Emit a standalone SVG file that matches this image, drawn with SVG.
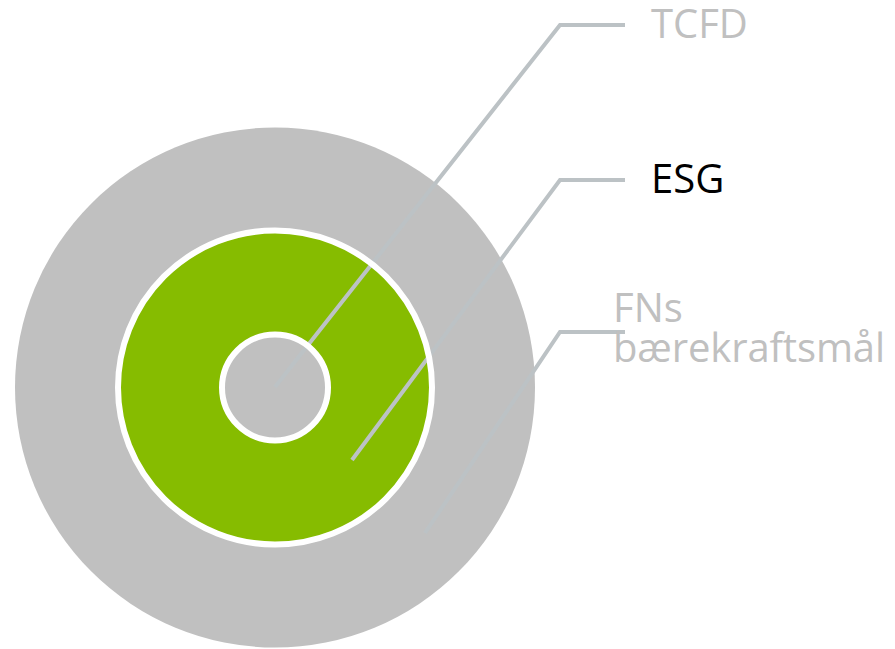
<svg xmlns="http://www.w3.org/2000/svg" width="895" height="649" viewBox="0 0 895 649">
  <style>
    .grayfill { fill: #c0c0c0; }
    .greenfill { fill: #86bc00; }
    .ring { fill: none; stroke: #ffffff; stroke-width: 6; }
    .conn { fill: none; stroke: #bcc2c5; stroke-width: 4; stroke-linejoin: miter; stroke-linecap: butt; }
    .label { font-family: "Open Sans", "Noto Sans", "Liberation Sans", sans-serif; font-size: 40px; font-weight: 400; }
    .muted { fill: #c0c0c0; }
    .dark { fill: #000000; }
  </style>
  <rect width="895" height="649" fill="#ffffff"/>
  <g id="node-fns">
    <circle class="grayfill" cx="275" cy="387.5" r="260"/>
  </g>
  <g id="node-esg">
    <circle class="greenfill" cx="275" cy="387.5" r="157"/>
  </g>
  <g id="node-tcfd">
    <circle class="grayfill" cx="275" cy="387.5" r="53"/>
  </g>
  <g id="connectors">
    <polyline class="conn" points="275,387 560,25 625,25"/>
    <polyline class="conn" points="352,460 560,180 625,180"/>
    <polyline class="conn" points="425,533 560,332 625,332"/>
  </g>
  <g id="rings">
    <circle class="ring" cx="275" cy="387.5" r="157"/>
    <circle class="ring" cx="275" cy="387.5" r="53"/>
  </g>
  <g id="labels">
    <text class="label muted" x="651" y="38">TCFD</text>
    <text class="label dark" x="651" y="193">ESG</text>
    <text class="label muted" x="613" y="322">FNs</text>
    <text class="label muted" x="613" y="362" textLength="272" lengthAdjust="spacing">bærekraftsmål</text>
  </g>
</svg>
